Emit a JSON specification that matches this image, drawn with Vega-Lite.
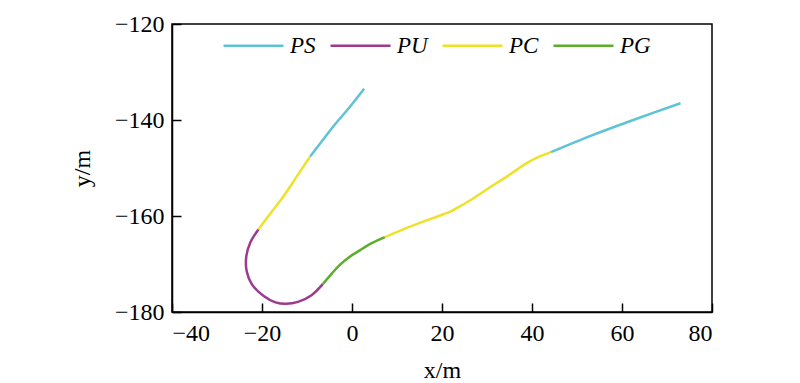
{
  "$schema": "https://vega.github.io/schema/vega-lite/v6.json",
  "width": 540,
  "height": 288,
  "autosize": {"type": "none"},
  "padding": {"left": 172, "top": 24, "right": 88, "bottom": 71},
  "background": "white",
  "config": {
    "font": "Liberation Serif",
    "view": {"stroke": "black", "strokeWidth": 1.5},
    "axis": {
      "labelFont": "Liberation Serif",
      "titleFont": "Liberation Serif",
      "labelFontSize": 24,
      "titleFontSize": 24,
      "titleFontWeight": "normal",
      "labelColor": "black",
      "titleColor": "black",
      "domainColor": "black",
      "domainWidth": 1.5,
      "tickColor": "black",
      "tickWidth": 1.5,
      "tickSize": -9,
      "grid": false
    }
  },
  "data": {
    "values": [
      {"seg": "PS", "part": "s1", "i": 0, "x": 2.7, "y": -133.5},
      {"seg": "PS", "part": "s1", "i": 1, "x": -0.5, "y": -137.3},
      {"seg": "PS", "part": "s1", "i": 2, "x": -4.2, "y": -141.4},
      {"seg": "PS", "part": "s1", "i": 3, "x": -7.0, "y": -144.8},
      {"seg": "PS", "part": "s1", "i": 4, "x": -9.3, "y": -147.6},
      {"seg": "PC", "part": "c1", "i": 0, "x": -9.3, "y": -147.6},
      {"seg": "PC", "part": "c1", "i": 1, "x": -12.3, "y": -151.8},
      {"seg": "PC", "part": "c1", "i": 2, "x": -15.3, "y": -156.0},
      {"seg": "PC", "part": "c1", "i": 3, "x": -18.0, "y": -159.3},
      {"seg": "PC", "part": "c1", "i": 4, "x": -20.8, "y": -162.8},
      {"seg": "PU", "part": "u1", "i": 0, "x": -20.8, "y": -162.8},
      {"seg": "PU", "part": "u1", "i": 1, "x": -22.6, "y": -165.5},
      {"seg": "PU", "part": "u1", "i": 2, "x": -23.5, "y": -168.5},
      {"seg": "PU", "part": "u1", "i": 3, "x": -23.4, "y": -171.5},
      {"seg": "PU", "part": "u1", "i": 4, "x": -22.2, "y": -174.3},
      {"seg": "PU", "part": "u1", "i": 5, "x": -19.7, "y": -176.6},
      {"seg": "PU", "part": "u1", "i": 6, "x": -17.0, "y": -178.0},
      {"seg": "PU", "part": "u1", "i": 7, "x": -14.7, "y": -178.3},
      {"seg": "PU", "part": "u1", "i": 8, "x": -12.0, "y": -177.9},
      {"seg": "PU", "part": "u1", "i": 9, "x": -9.0, "y": -176.5},
      {"seg": "PU", "part": "u1", "i": 10, "x": -6.5, "y": -174.2},
      {"seg": "PG", "part": "g1", "i": 0, "x": -6.5, "y": -174.2},
      {"seg": "PG", "part": "g1", "i": 1, "x": -4.5, "y": -172.0},
      {"seg": "PG", "part": "g1", "i": 2, "x": -2.7, "y": -170.2},
      {"seg": "PG", "part": "g1", "i": 3, "x": -0.5, "y": -168.5},
      {"seg": "PG", "part": "g1", "i": 4, "x": 1.8, "y": -167.1},
      {"seg": "PG", "part": "g1", "i": 5, "x": 4.5, "y": -165.6},
      {"seg": "PG", "part": "g1", "i": 6, "x": 7.3, "y": -164.4},
      {"seg": "PC", "part": "c2", "i": 0, "x": 7.3, "y": -164.4},
      {"seg": "PC", "part": "c2", "i": 1, "x": 12.9, "y": -162.2},
      {"seg": "PC", "part": "c2", "i": 2, "x": 17.5, "y": -160.6},
      {"seg": "PC", "part": "c2", "i": 3, "x": 21.8, "y": -159.1},
      {"seg": "PC", "part": "c2", "i": 4, "x": 24.5, "y": -157.7},
      {"seg": "PC", "part": "c2", "i": 5, "x": 27.0, "y": -156.3},
      {"seg": "PC", "part": "c2", "i": 6, "x": 30.5, "y": -154.1},
      {"seg": "PC", "part": "c2", "i": 7, "x": 34.4, "y": -151.8},
      {"seg": "PC", "part": "c2", "i": 8, "x": 38.8, "y": -149.0},
      {"seg": "PC", "part": "c2", "i": 9, "x": 41.5, "y": -147.7},
      {"seg": "PC", "part": "c2", "i": 10, "x": 44.2, "y": -146.7},
      {"seg": "PS", "part": "s2", "i": 0, "x": 44.2, "y": -146.7},
      {"seg": "PS", "part": "s2", "i": 1, "x": 53.6, "y": -143.1},
      {"seg": "PS", "part": "s2", "i": 2, "x": 62.5, "y": -140.0},
      {"seg": "PS", "part": "s2", "i": 3, "x": 73.0, "y": -136.5}
    ]
  },
  "mark": {"type": "line", "strokeWidth": 2.5, "clip": true, "interpolate": "catmull-rom"},
  "encoding": {
    "x": {
      "field": "x",
      "type": "quantitative",
      "scale": {"domain": [-40, 80], "nice": false, "zero": false},
      "axis": {"values": [-40, -20, 0, 20, 40, 60, 80], "title": "x/m", "labelPadding": 18, "titlePadding": 13}
    },
    "y": {
      "field": "y",
      "type": "quantitative",
      "scale": {"domain": [-180, -120], "nice": false, "zero": false},
      "axis": {"values": [-180, -160, -140, -120], "title": "y/m", "labelPadding": 17, "titlePadding": 20}
    },
    "detail": {"field": "part"},
    "order": {"field": "i", "type": "quantitative"},
    "color": {
      "field": "seg",
      "type": "nominal",
      "scale": {"domain": ["PS", "PU", "PC", "PG"], "range": ["#5ec3d5", "#9e3a8e", "#ede22a", "#5aae2c"]},
      "legend": {
        "title": null,
        "orient": "none",
        "legendX": 50,
        "legendY": -10,
        "direction": "horizontal",
        "symbolType": "stroke",
        "symbolSize": 3600,
        "symbolStrokeWidth": 2.5,
        "labelFont": "Liberation Serif",
        "labelFontStyle": "italic",
        "labelFontSize": 23,
        "labelColor": "black",
        "labelOffset": 5,
        "columnPadding": 9,
        "padding": 0
      }
    }
  }
}
